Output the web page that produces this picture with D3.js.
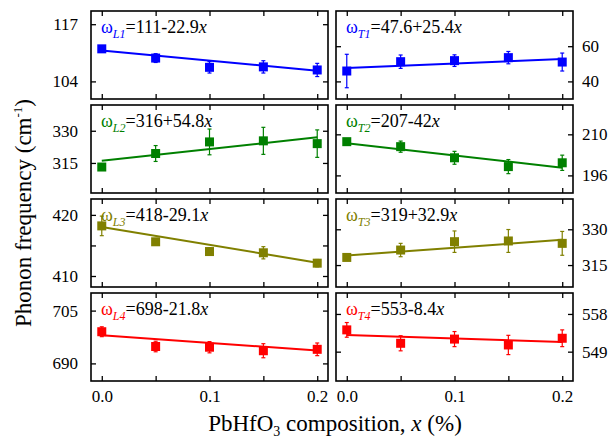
<!DOCTYPE html>
<html lang="en">
<head>
<meta charset="utf-8">
<title>Phonon frequency vs PbHfO3 composition</title>
<script src="https://d3js.org/d3.v7.min.js"></script>
<style>
  body { margin: 0; background: #fff; }
  svg text { font-family: "Liberation Serif", Times, "Times New Roman", "DejaVu Serif", serif; }
</style>
</head>
<body>
<div id="chart"></div>
<script>
// composition values (x axis)
var comps = [0, 0.05, 0.1, 0.15, 0.2];
var xTicks = [0, 0.1, 0.2];

// measured phonon frequencies and their error bars
var wL1 = [111.4, 109.3, 107.2, 107.3, 106.6], eL1 = [0.4, 1.0, 1.3, 1.4, 1.5];
var wT1 = [45.9, 51.2, 51.8, 53.5, 51.0],     eT1 = [9.5, 3.8, 3.3, 3.5, 5.1];
var wL2 = [313.1, 319.4, 324.8, 325.3, 324.0], eL2 = [0.8, 3.7, 6.0, 6.3, 6.4];
var wT2 = [207.5, 205.8, 202.0, 199.0, 200.3], eT2 = [0.8, 1.9, 2.2, 2.4, 2.6];
var wL3 = [418.2, 415.6, 414.0, 413.8, 412.1], eL3 = [1.6, 0.5, 0.6, 1.0, 0.6];
var wT3 = [318.2, 321.3, 324.8, 325.1, 324.1], eT3 = [0.8, 2.8, 4.5, 4.8, 5.0];
var wL4 = [699.0, 694.8, 694.6, 693.6, 694.0], eL4 = [1.4, 1.5, 1.6, 2.0, 1.8];
var wT4 = [554.2, 551.0, 552.0, 550.6, 552.2], eT4 = [1.75, 1.8, 1.8, 2.3, 2.0];

// linear fits: intercept + slope * x
var fitL = [[111, -22.9], [316, 54.8], [418, -29.1], [698, -21.8]];
var fitT = [[47.6, 25.4], [207, -42], [319, 32.9], [553, -8.4]];

// y ranges and tick labels per panel
var domL = [[100, 120], [301, 342], [408.2, 422.6], [685, 710]];
var domT = [[30, 80], [190, 220], [305.8, 342.7], [542, 563]];
var ticksL = [[104, 117], [315, 330], [410, 415, 420], [690, 705]];
var labelsL = [[104, 117], [315, 330], [410, 420], [690, 705]];
var ticksT = [[40, 60], [196, 210], [315, 330], [549, 558]];

var colors = ["#0000ff", "#008000", "#808000", "#ff0000"];
var namesL = ["L1", "L2", "L3", "L4"], namesT = ["T1", "T2", "T3", "T4"];
var eqL = ["=111-22.9", "=316+54.8", "=418-29.1", "=698-21.8"];
var eqT = ["=47.6+25.4", "=207-42", "=319+32.9", "=553-8.4"];

var serif = "'Liberation Serif', Times, 'Times New Roman', 'DejaVu Serif', serif";
var W = 614, H = 446;
var cols = [[91, 328], [336, 573]];
var rowTop = [11, 105, 199, 293], ph = 88;

var svg = d3.select("#chart").append("svg")
  .attr("width", W).attr("height", H)
  .attr("font-family", serif);

var panels = [];
for (var r = 0; r < 4; r++) {
  panels.push({col: 0, row: r, vals: [wL1, wL2, wL3, wL4][r], errs: [eL1, eL2, eL3, eL4][r],
    fit: fitL[r], dom: domL[r], ticks: ticksL[r], labels: labelsL[r], name: namesL[r], eq: eqL[r]});
  panels.push({col: 1, row: r, vals: [wT1, wT2, wT3, wT4][r], errs: [eT1, eT2, eT3, eT4][r],
    fit: fitT[r], dom: domT[r], ticks: ticksT[r], labels: ticksT[r], name: namesT[r], eq: eqT[r]});
}

panels.forEach(function(p) {
  var x0 = cols[p.col][0], x1 = cols[p.col][1];
  var y0 = rowTop[p.row], y1 = y0 + ph;
  var color = colors[p.row];

  var x = d3.scaleLinear().domain([-0.01, 0.21]).range([x0, x1]);
  var y = d3.scaleLinear().domain(p.dom).range([y1, y0]);

  var g = svg.append("g");
  var fmt = function(d) { return p.labels.indexOf(d) >= 0 ? d : ""; };

  // y axes (labelled side + mirror)
  var yl = d3.axisLeft(y).tickValues(p.ticks).tickSizeInner(-5).tickSizeOuter(0).tickPadding(13);
  var yr = d3.axisRight(y).tickValues(p.ticks).tickSizeInner(-5).tickSizeOuter(0).tickPadding(9);
  if (p.col === 0) { yr.tickFormat(""); yl.tickFormat(fmt); }
  else { yl.tickFormat(""); yr.tickFormat(fmt); }
  g.append("g").attr("transform", "translate(" + x0 + ",0)").call(yl);
  g.append("g").attr("transform", "translate(" + x1 + ",0)").call(yr);

  // x axes
  var xb = d3.axisBottom(x).tickValues(comps).tickSizeInner(-5).tickSizeOuter(0).tickPadding(9)
    .tickFormat(function(d) { return (p.row === 3 && xTicks.indexOf(d) >= 0) ? d3.format(".1f")(d) : ""; });
  var xt = d3.axisTop(x).tickValues(comps).tickSizeInner(-5).tickSizeOuter(0).tickFormat("");
  g.append("g").attr("transform", "translate(0," + y1 + ")").call(xb);
  g.append("g").attr("transform", "translate(0," + y0 + ")").call(xt);

  g.selectAll(".domain").remove();
  g.selectAll("g").attr("font-family", serif).attr("font-size", 17);
  g.selectAll(".tick line").attr("stroke", "#000").attr("stroke-width", 1.3);
  g.selectAll(".tick text").attr("fill", "#000");

  // frame
  g.append("rect").attr("x", x0).attr("y", y0).attr("width", x1 - x0).attr("height", ph)
    .attr("fill", "none").attr("stroke", "#000").attr("stroke-width", 1.6);

  // fit line
  g.append("line")
    .attr("x1", x(0)).attr("y1", y(p.fit[0]))
    .attr("x2", x(0.2)).attr("y2", y(p.fit[0] + p.fit[1] * 0.2))
    .attr("stroke", color).attr("stroke-width", 2);

  // error bars
  var pts = comps.map(function(c, i) { return {c: c, v: p.vals[i], e: p.errs[i]}; });
  var eb = g.selectAll(".eb").data(pts).enter().append("g").attr("stroke", color).attr("stroke-width", 1.2);
  eb.append("line").attr("x1", function(d) { return x(d.c); }).attr("x2", function(d) { return x(d.c); })
    .attr("y1", function(d) { return y(d.v - d.e); }).attr("y2", function(d) { return y(d.v + d.e); });
  eb.append("line").attr("x1", function(d) { return x(d.c) - 2; }).attr("x2", function(d) { return x(d.c) + 2; })
    .attr("y1", function(d) { return y(d.v - d.e); }).attr("y2", function(d) { return y(d.v - d.e); });
  eb.append("line").attr("x1", function(d) { return x(d.c) - 2; }).attr("x2", function(d) { return x(d.c) + 2; })
    .attr("y1", function(d) { return y(d.v + d.e); }).attr("y2", function(d) { return y(d.v + d.e); });

  // square markers
  g.selectAll(".pt").data(pts).enter().append("rect")
    .attr("x", function(d) { return x(d.c) - 4.5; })
    .attr("y", function(d) { return y(d.v) - 4.5; })
    .attr("width", 9).attr("height", 9).attr("fill", color);

  // equation label
  var lbl = g.append("text")
    .attr("x", x0 + 10)
    .attr("y", y0 + 22)
    .attr("font-size", 18);
  lbl.append("tspan").text("\u03c9").attr("fill", color);
  lbl.append("tspan").text(p.name).attr("fill", color).attr("font-style", "italic")
    .attr("font-size", 12).attr("dy", 5);
  lbl.append("tspan").text(p.eq).attr("fill", "#000").attr("dy", -5);
  lbl.append("tspan").text("x").attr("fill", "#000").attr("font-style", "italic");
});

// axis titles
var yt = svg.append("text").attr("transform", "translate(31,213) rotate(-90)")
  .attr("text-anchor", "middle").attr("font-size", 23).attr("fill", "#000");
yt.append("tspan").text("Phonon frequency (cm");
yt.append("tspan").text("-1").attr("font-size", 13).attr("dy", -9);
yt.append("tspan").text(")").attr("dy", 9);

var xtl = svg.append("text").attr("x", 335).attr("y", 431)
  .attr("text-anchor", "middle").attr("font-size", 23).attr("fill", "#000");
xtl.append("tspan").text("PbHfO");
xtl.append("tspan").text("3").attr("font-size", 14).attr("dy", 5);
xtl.append("tspan").text(" composition, ").attr("dy", -5);
xtl.append("tspan").text("x").attr("font-style", "italic");
xtl.append("tspan").text(" (%)");
</script>
</body>
</html>
